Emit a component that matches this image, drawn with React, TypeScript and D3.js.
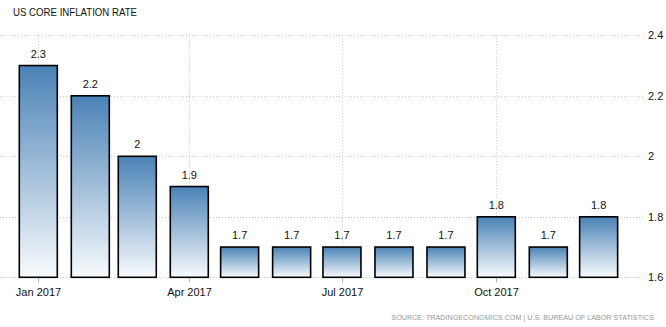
import React from "react";
import * as d3 from "d3";

const title = "US CORE INFLATION RATE";
const source = "SOURCE: TRADINGECONOMICS.COM | U.S. BUREAU OF LABOR STATISTICS";
const months = ["2017-01", "2017-02", "2017-03", "2017-04", "2017-05", "2017-06", "2017-07", "2017-08", "2017-09", "2017-10", "2017-11", "2017-12"];
const values = [2.3, 2.2, 2.0, 1.9, 1.7, 1.7, 1.7, 1.7, 1.7, 1.8, 1.7, 1.8];
const yTicks = [1.6, 1.8, 2.0, 2.2, 2.4];
const xTickMonths = ["2017-01", "2017-04", "2017-07", "2017-10"];

const W = 666;
const H = 327;

const parse = d3.timeParse("%Y-%m");

export default function App() {
  const x = d3.scaleTime().domain([parse("2017-01")!, parse("2017-10")!]).range([38.3, 496.3]);
  const y = d3.scaleLinear().domain([1.6, 2.4]).range([277.3, 35.3]);
  const fmtX = d3.timeFormat("%b %Y");
  const barW = 38;
  const gridRight = 645;
  const font = "'Liberation Sans', Arial, sans-serif";

  return (
    <svg width={W} height={H} style={{ position: "absolute", left: 0, top: 0, background: "#fff" }} fontFamily={font}>
      <defs>
        <linearGradient id="barGrad" x1="0" y1="0" x2="0" y2="1">
          <stop offset="0" stopColor="#4a82b6" />
          <stop offset="1" stopColor="#f8fbfd" />
        </linearGradient>
      </defs>
      <text x={13} y={15.5} fontSize={11} fill="#111" textLength={124} lengthAdjust="spacingAndGlyphs">{title}</text>
      {yTicks.map((t) => (
        <g key={"y" + t}>
          <line x1={0} x2={gridRight} y1={Math.round(y(t)) + 0.5} y2={Math.round(y(t)) + 0.5} stroke="#c8c8c8" strokeDasharray="1,2" />
          <text x={648} y={y(t) + 4} fontSize={11} fill="#111">{d3.format("")(t)}</text>
        </g>
      ))}
      {xTickMonths.map((m) => {
        const xx = Math.round(x(parse(m)!)) + 0.5;
        return (
          <g key={"x" + m}>
            <line x1={xx} x2={xx} y1={y(2.4)} y2={y(1.6)} stroke="#c8c8c8" strokeDasharray="1,2" />
            <line x1={xx} x2={xx} y1={y(1.6)} y2={y(1.6) + 5} stroke="#b0b0b0" />
            <text x={xx} y={296} fontSize={11} fill="#111" textAnchor="middle">{fmtX(parse(m)!)}</text>
          </g>
        );
      })}
      {months.map((m, i) => {
        const cx = x(parse(m)!);
        const v = values[i];
        return (
          <g key={m}>
            <rect x={cx - barW / 2} y={y(v)} width={barW} height={y(1.6) - y(v)} fill="url(#barGrad)" stroke="#000" strokeWidth={1.6} />
            <text x={cx} y={y(v) - 8} fontSize={11} fill="#111" textAnchor="middle">{d3.format("")(v)}</text>
          </g>
        );
      })}
      <text x={654} y={320} fontSize={7.2} fill="#999" textAnchor="end">{source}</text>
    </svg>
  );
}
